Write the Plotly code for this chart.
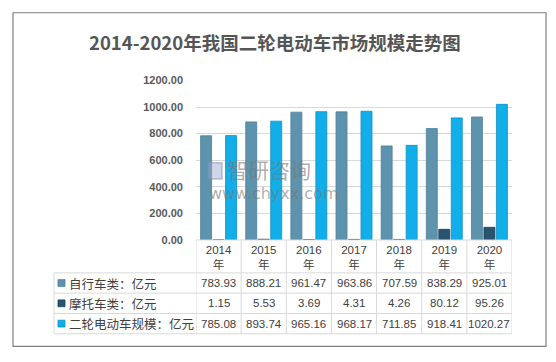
import plotly.graph_objects as go

W, H = 556, 362

years = ["2014", "2015", "2016", "2017", "2018", "2019", "2020"]
series_names = ["自行车类：亿元", "摩托车类：亿元", "二轮电动车规模：亿元"]
bicycle = [783.93, 888.21, 961.47, 963.86, 707.59, 838.29, 925.01]
motorcycle = [1.15, 5.53, 3.69, 4.31, 4.26, 80.12, 95.26]
ebike = [785.08, 893.74, 965.16, 968.17, 711.85, 918.41, 1020.27]
y_ticks = [0, 200, 400, 600, 800, 1000, 1200]

colors = ["#5e93ae", "#285470", "#12aeea"]
edge = ["#4f7f96", "#1d3f55", "#0a90c4"]

def px_x(x):
    return x / W

def px_y(y):
    return 1 - y / H

FONT = "Liberation Sans, Noto Sans CJK SC, sans-serif"
TXT = "#404040"
GRID = "#d9d9d9"

fig = go.Figure()
for name, vals, c, e in zip(series_names, [bicycle, motorcycle, ebike], colors, edge):
    fig.add_trace(go.Bar(
        x=years, y=vals, name=name,
        marker=dict(color=c, line=dict(color=e, width=0.8)),
    ))

# ---- data table (under the plot), tied to the category x axis ----
plot_bottom = 242
header_bottom = 276
row_h = 21
table_left, table_right = 54, 512
rows = [bicycle, motorcycle, ebike]
row_edges = [header_bottom + i * row_h for i in range(len(rows) + 1)]
n = len(years)

shapes = []
annotations = []
shapes.append(dict(type="line", xref="x", yref="paper", x0=-0.5, x1=n - 0.5,
                   y0=px_y(plot_bottom), y1=px_y(plot_bottom), line=dict(color=GRID, width=1)))
for ye in row_edges:
    shapes.append(dict(type="line", xref="paper", yref="paper", x0=px_x(table_left), x1=px_x(table_right),
                       y0=px_y(ye), y1=px_y(ye), line=dict(color=GRID, width=1)))
for i in range(n + 1):
    shapes.append(dict(type="line", xref="x", yref="paper", x0=i - 0.5, x1=i - 0.5,
                       y0=px_y(plot_bottom), y1=px_y(row_edges[-1]), line=dict(color=GRID, width=1)))
shapes.append(dict(type="line", xref="paper", yref="paper", x0=px_x(table_left), x1=px_x(table_left),
                   y0=px_y(header_bottom), y1=px_y(row_edges[-1]), line=dict(color=GRID, width=1)))

for r, (name, vals, c, e) in enumerate(zip(series_names, rows, colors, edge)):
    yc = row_edges[r] + row_h / 2
    shapes.append(dict(type="rect", xref="paper", yref="paper",
                       x0=px_x(58), x1=px_x(65), y0=px_y(yc + 3.5), y1=px_y(yc - 3.5),
                       fillcolor=c, line=dict(color=e, width=0.8)))
    annotations.append(dict(text=name, xref="paper", yref="paper", x=px_x(67), y=px_y(yc),
                            xanchor="left", yanchor="middle", showarrow=False,
                            font=dict(family="Noto Sans CJK SC, sans-serif", size=12.5, color=TXT)))
    for i, v in enumerate(vals):
        annotations.append(dict(text="%.2f" % v, xref="x", yref="paper", x=i, y=px_y(yc),
                                xanchor="center", yanchor="middle", showarrow=False,
                                font=dict(family=FONT, size=11.5, color=TXT)))

shapes.append(dict(type="rect", xref="paper", yref="paper",
                   x0=px_x(13), x1=px_x(546), y0=px_y(352), y1=px_y(7),
                   line=dict(color="#7f7f7f", width=1.2), fillcolor="rgba(0,0,0,0)", layer="below"))
shapes.append(dict(type="rect", xref="paper", yref="paper",
                   x0=px_x(208), x1=px_x(222), y0=px_y(179), y1=px_y(162),
                   line=dict(color="rgba(120,140,190,0.5)", width=1.5), fillcolor="rgba(150,165,205,0.45)"))

annotations += [
    dict(text="<b>2014-2020年我国二轮电动车市场规模走势图</b>", xref="paper", yref="paper",
         x=px_x(275), y=px_y(37), showarrow=False, xanchor="center", yanchor="middle",
         font=dict(family="Noto Sans CJK SC, sans-serif", size=18.5, color="#555555")),
    dict(text="智研咨询", xref="paper", yref="paper",
         x=px_x(225), y=px_y(169), showarrow=False, xanchor="left", yanchor="middle",
         font=dict(family="Noto Sans CJK SC, sans-serif", size=21, color="rgba(120,120,120,0.6)")),
    dict(text="www.chyxx.com", xref="paper", yref="paper",
         x=px_x(207), y=px_y(194), showarrow=False, xanchor="left", yanchor="middle",
         font=dict(family="DejaVu Sans, sans-serif", size=16, color="rgba(120,120,120,0.6)")),
]

fig.update_layout(
    width=W, height=H,
    margin=dict(l=0, r=0, t=0, b=0),
    paper_bgcolor="white", plot_bgcolor="white",
    showlegend=False,
    barmode="group", bargap=0.17, bargroupgap=0.12,
    xaxis=dict(domain=[px_x(196), px_x(512)], type="category", range=[-0.5, n - 0.5],
               categoryorder="array", categoryarray=years,
               tickvals=years, ticktext=["%s<br>年" % y for y in years],
               tickfont=dict(family=FONT, size=11.5, color=TXT),
               ticks="", ticklabelstandoff=2,
               showgrid=False, zeroline=False, showline=False),
    yaxis=dict(domain=[px_y(plot_bottom), px_y(77)], range=[0, 1200], tickvals=y_ticks,
               tickformat=".2f", showgrid=True, gridcolor=GRID, gridwidth=1,
               zeroline=False, showline=False, ticks="", ticklabelstandoff=12,
               tickfont=dict(family=FONT, size=11, color="#595959", weight="bold")),
    shapes=shapes,
    annotations=annotations,
)

fig.write_html("out.html", config={"displayModeBar": False},
               post_script="document.body.style.margin='0';document.body.style.overflow='hidden';")
